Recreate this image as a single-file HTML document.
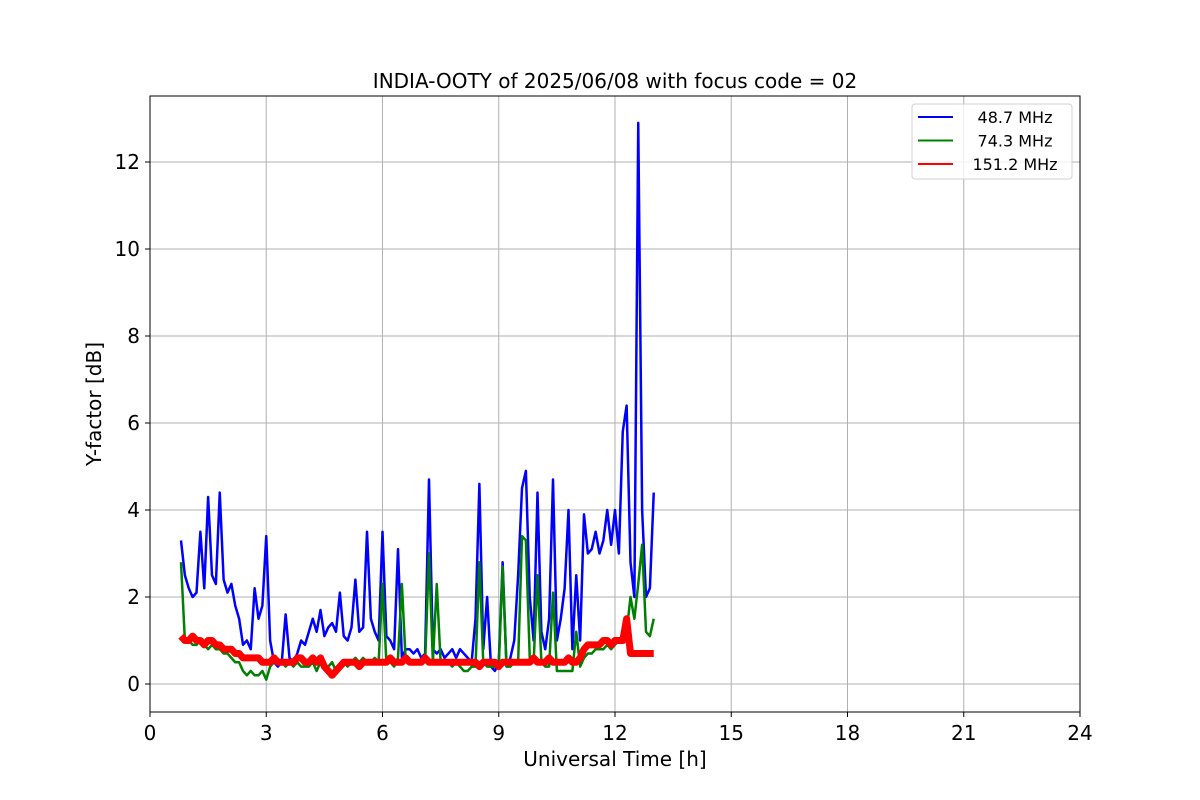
<!DOCTYPE html>
<html><head><meta charset="utf-8"><style>
body{margin:0;background:#fff;}
svg{display:block;font-family:"DejaVu Sans","Liberation Sans",sans-serif;}
</style></head><body>
<svg id="chart" width="1200" height="800"></svg>
<script>
const startHour = 0.8;
const stepHour = 0.1;
const blueValues = [3.3,2.5,2.2,2.0,2.1,3.5,2.2,4.3,2.5,2.3,4.4,2.4,
2.1,2.3,1.8,1.5,0.9,1.0,0.8,2.2,1.5,1.8,
3.4,1.0,0.5,0.4,0.5,1.6,0.6,0.5,0.7,1.0,
0.9,1.2,1.5,1.2,1.7,1.1,1.3,1.4,1.2,2.1,
1.1,1.0,1.3,2.4,1.2,1.3,3.5,1.5,1.2,1.0,
3.5,1.1,1.0,0.8,3.1,0.6,0.8,0.8,0.7,0.8,
0.6,0.7,4.7,0.8,0.7,0.8,0.6,0.7,0.8,0.6,
0.8,0.7,0.6,0.5,1.5,4.6,0.8,2.0,0.4,0.3,
0.5,2.8,0.4,0.6,1.0,2.5,4.5,4.9,2.0,1.0,
4.4,1.2,0.8,1.5,4.7,1.0,1.5,2.2,4.0,0.8,
2.5,1.0,3.9,3.0,3.1,3.5,3.0,3.3,4.0,3.2,
4.0,3.0,5.8,6.4,2.8,2.0,12.9,4.0,2.0,2.2,4.4];
const greenValues = [2.8,1.0,1.0,0.9,0.9,1.0,0.9,0.8,0.9,0.8,0.8,0.7,
0.7,0.6,0.5,0.5,0.3,0.2,0.3,0.2,0.2,0.3,
0.1,0.4,0.5,0.5,0.5,0.4,0.5,0.4,0.5,0.4,
0.4,0.4,0.5,0.3,0.5,0.4,0.4,0.5,0.3,0.4,
0.5,0.4,0.5,0.6,0.5,0.6,0.5,0.5,0.6,0.5,
2.3,0.5,0.5,0.4,0.6,2.3,0.5,0.5,0.5,0.5,
0.5,0.5,3.0,0.5,2.3,0.5,0.5,0.5,0.4,0.5,
0.4,0.3,0.3,0.4,0.4,2.8,0.5,0.4,0.4,0.4,
0.4,2.7,0.4,0.4,0.5,0.5,3.4,3.3,0.6,0.5,
2.5,0.5,0.4,0.4,2.1,0.3,0.3,0.3,0.3,0.3,
1.2,0.4,0.6,0.7,0.7,0.8,0.8,0.8,0.9,0.8,
0.9,1.0,1.0,1.2,2.0,1.5,2.3,3.2,1.2,1.1,1.5];
const redValues = [1.1,1.0,1.0,1.1,1.0,1.0,0.9,1.0,1.0,0.9,0.9,0.8,
0.8,0.8,0.7,0.7,0.6,0.6,0.6,0.6,0.6,0.5,
0.5,0.5,0.6,0.5,0.5,0.5,0.5,0.5,0.6,0.6,
0.5,0.5,0.6,0.5,0.6,0.4,0.3,0.2,0.3,0.4,
0.5,0.5,0.5,0.5,0.4,0.5,0.5,0.5,0.5,0.5,
0.5,0.5,0.6,0.5,0.5,0.5,0.6,0.5,0.5,0.5,
0.5,0.6,0.5,0.5,0.5,0.5,0.5,0.5,0.5,0.5,
0.5,0.5,0.5,0.5,0.5,0.4,0.5,0.5,0.5,0.5,
0.4,0.5,0.5,0.5,0.5,0.5,0.5,0.5,0.5,0.6,
0.5,0.5,0.5,0.6,0.5,0.5,0.5,0.5,0.6,0.5,
0.5,0.6,0.8,0.9,0.9,0.9,0.9,1.0,1.0,0.9,
1.0,1.0,1.0,1.5,0.7,0.7,0.7,0.7,0.7,0.7,0.7];
const xTicks = [0,3,6,9,12,15,18,21,24];
const yTicks = [0,2,4,6,8,10,12];
const seriesNames = ["48.7 MHz","74.3 MHz","151.2 MHz"];

const L=150,R=1080,T=96,B=712;
const xMin=0,xMax=24,yMin=-0.644,yMax=13.517;
const xs=v=>L+(v-xMin)/(xMax-xMin)*(R-L);
const ys=v=>B-(v-yMin)/(yMax-yMin)*(B-T);
const NS="http://www.w3.org/2000/svg";
const svg=document.getElementById('chart');
function mk(tag,attrs,parent){const e=document.createElementNS(NS,tag);for(const k in attrs)e.setAttribute(k,attrs[k]);(parent||svg).appendChild(e);return e;}

const grid=mk('g',{});


xTicks.forEach(t=>{
  mk('line',{x1:xs(t),x2:xs(t),y1:T,y2:B,stroke:'#b0b0b0','stroke-width':1},grid);
  mk('line',{x1:xs(t),x2:xs(t),y1:B,y2:B+5,stroke:'#000','stroke-width':1});
  const lb=mk('text',{x:xs(t),y:B+28,'text-anchor':'middle','font-size':20});
  lb.textContent=t;
  
  
});
yTicks.forEach(t=>{
  mk('line',{x1:L,x2:R,y1:ys(t),y2:ys(t),stroke:'#b0b0b0','stroke-width':1},grid);
  mk('line',{x1:L-5,x2:L,y1:ys(t),y2:ys(t),stroke:'#000','stroke-width':1});
  const lb=mk('text',{x:L-10,y:ys(t)+7,'text-anchor':'end','font-size':20});
  lb.textContent=t;
  
  
});

const colors=['#0000ff','#008000','#ff0000'];
const widths=[2.5,2.5,7];
[blueValues,greenValues,redValues].forEach((arr,i)=>{
  const d=arr.map((v,j)=>(j?'L':'M')+xs(startHour+j*stepHour).toFixed(2)+','+ys(v).toFixed(2)).join('');
  const p=mk('path',{d:d,fill:'none',stroke:colors[i],'stroke-width':widths[i],'stroke-linejoin':'round'});
  
  
});

const frame=mk('rect',{x:L,y:T,width:R-L,height:B-T,fill:'none',stroke:'#000','stroke-width':1});



const title=mk('text',{x:(L+R)/2,y:88,'text-anchor':'middle','font-size':20});
title.textContent='INDIA-OOTY of 2025/06/08 with focus code = 02';


const xl=mk('text',{x:(L+R)/2,y:766,'text-anchor':'middle','font-size':20});
xl.textContent='Universal Time [h]';


const yl=mk('text',{x:0,y:0,'text-anchor':'middle','font-size':20,transform:'translate(101,404) rotate(-90)'});
yl.textContent='Y-factor [dB]';



const lg=mk('g',{});


mk('rect',{x:912,y:104,width:160,height:75,rx:3,fill:'#fff','fill-opacity':0.8,stroke:'#d0d0d0'},lg);
seriesNames.forEach((n,i)=>{
  const y=117+i*23.5;
  mk('line',{x1:918,x2:953,y1:y,y2:y,stroke:colors[i],'stroke-width':2},lg);
  const t=mk('text',{x:1015,y:y+6,'text-anchor':'middle','font-size':16},lg);
  t.textContent=n;
  
  
});
</script>
</body></html>
